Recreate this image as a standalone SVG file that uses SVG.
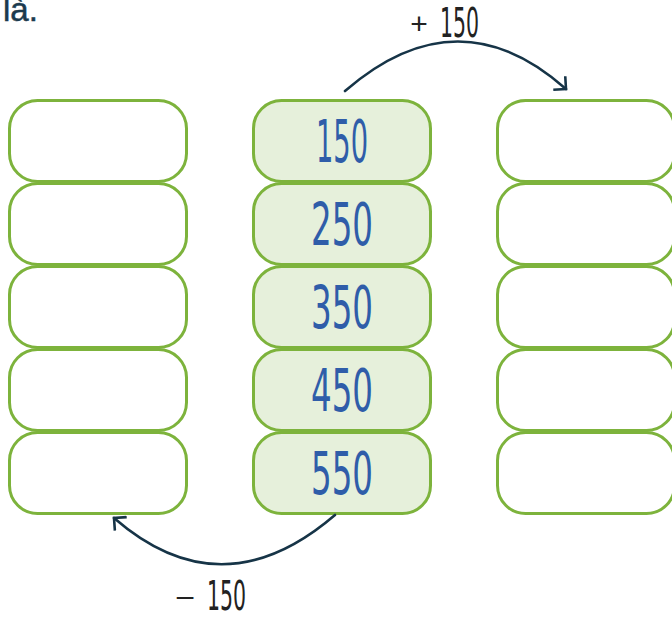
<svg xmlns="http://www.w3.org/2000/svg" width="672" height="618" viewBox="0 0 672 618">
<style>
.box{fill:#ffffff;stroke:#7db33c;stroke-width:3}
.mid{fill:#e6f0db;stroke:#7db33c;stroke-width:3}
.num{font-family:"DejaVu Sans Condensed","DejaVu Sans",sans-serif;font-size:58px;fill:#2f5da9;text-anchor:middle}
.op{font-family:"DejaVu Sans Condensed","DejaVu Sans",sans-serif;font-size:40px;fill:#222222}
.sym{font-family:"Liberation Sans",Arial,sans-serif;font-size:30px;fill:#222222;text-anchor:middle}
.arc{fill:none;stroke:#163447;stroke-width:2.6;stroke-linecap:round}
</style>
<defs>
<marker id="ah" markerWidth="20" markerHeight="20" refX="10" refY="10" orient="auto" markerUnits="userSpaceOnUse">
<path d="M1,1 L10,10 L1,19" fill="none" stroke="#163447" stroke-width="2.6"/>
</marker>
</defs>
<text x="3" y="21" font-family="Liberation Sans, Arial, sans-serif" font-size="33" fill="#1c3a4e" stroke="#1c3a4e" stroke-width="0.5">là.</text>
<g id="left">
<rect class="box" x="9.5" y="100.5" width="177" height="81" rx="28"/>
<rect class="box" x="9.5" y="183.5" width="177" height="81" rx="28"/>
<rect class="box" x="9.5" y="266.5" width="177" height="81" rx="28"/>
<rect class="box" x="9.5" y="349.5" width="177" height="81" rx="28"/>
<rect class="box" x="9.5" y="432.5" width="177" height="81" rx="28"/>
</g>
<g id="middle">
<g id="n150"><rect class="mid" x="253.5" y="100.5" width="177" height="81" rx="28"/><text class="num" x="342" y="162" textLength="52" lengthAdjust="spacingAndGlyphs">150</text></g>
<g id="n250"><rect class="mid" x="253.5" y="183.5" width="177" height="81" rx="28"/><text class="num" x="342" y="245" textLength="62" lengthAdjust="spacingAndGlyphs">250</text></g>
<g id="n350"><rect class="mid" x="253.5" y="266.5" width="177" height="81" rx="28"/><text class="num" x="342" y="328" textLength="62" lengthAdjust="spacingAndGlyphs">350</text></g>
<g id="n450"><rect class="mid" x="253.5" y="349.5" width="177" height="81" rx="28"/><text class="num" x="342" y="411" textLength="62" lengthAdjust="spacingAndGlyphs">450</text></g>
<g id="n550"><rect class="mid" x="253.5" y="432.5" width="177" height="81" rx="28"/><text class="num" x="342" y="494" textLength="62" lengthAdjust="spacingAndGlyphs">550</text></g>
</g>
<g id="right">
<rect class="box" x="497.5" y="100.5" width="177" height="81" rx="28"/>
<rect class="box" x="497.5" y="183.5" width="177" height="81" rx="28"/>
<rect class="box" x="497.5" y="266.5" width="177" height="81" rx="28"/>
<rect class="box" x="497.5" y="349.5" width="177" height="81" rx="28"/>
<rect class="box" x="497.5" y="432.5" width="177" height="81" rx="28"/>
</g>
<g id="connectors">
<path class="arc" d="M345,91 Q458,-7 566,89" marker-end="url(#ah)"/>
<path class="arc" d="M335,515 Q222,612 114,518" marker-end="url(#ah)"/>
</g>
<g id="plus">
<text class="sym" x="419" y="34">+</text>
<text class="op" x="440" y="37" textLength="39" lengthAdjust="spacingAndGlyphs">150</text>
</g>
<g id="minus">
<text class="sym" x="185" y="606">–</text>
<text class="op" x="207" y="610" textLength="39" lengthAdjust="spacingAndGlyphs">150</text>
</g>
</svg>
